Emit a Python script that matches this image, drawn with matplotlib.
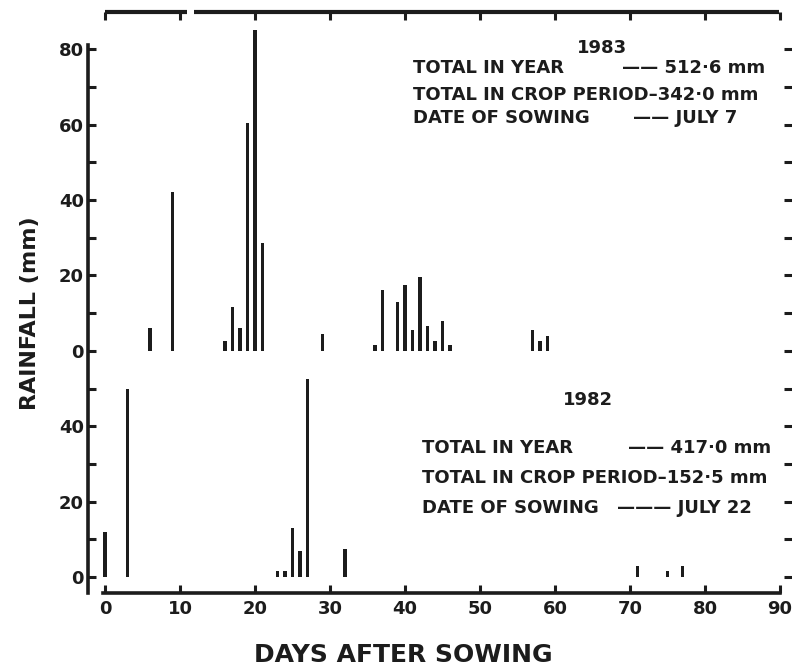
import matplotlib.pyplot as plt

# rainfall per day after sowing
days_1983 = [6, 9, 16, 17, 18, 19, 20, 21, 29, 36, 37, 39, 40, 41, 42, 43, 44, 45, 46, 57, 58, 59]
rain_1983 = [6, 42, 2.5, 11.5, 6, 60.5, 85, 28.5, 4.5, 1.5, 16, 13, 17.5, 5.5, 19.5, 6.5, 2.5, 8, 1.5, 5.5, 2.5, 4]

days_1982 = [0, 3, 23, 24, 25, 26, 27, 32, 71, 75, 77]
rain_1982 = [12, 50, 1.5, 1.5, 13, 7, 52.5, 7.5, 3, 1.5, 3]

offset_1983 = 60  # 1983 panel sits on top of 1982 panel
ytick_pos = list(range(0, 150, 10))
ytick_labels = ['0', '', '20', '', '40', '', '0', '', '20', '', '40', '', '60', '', '80']
xtick_pos = list(range(0, 100, 10))

ink = '#1c1c1c'
W, H = 792, 670


def px(x, y):
    return x / W, 1 - y / H


fig = plt.figure(figsize=(W / 100, H / 100), dpi=100)
ax = fig.add_axes([88 / W, 1 - 593 / H, (W - 88) / W, (593 - 12) / H])

ax.bar(days_1983, rain_1983, width=0.5, bottom=offset_1983, color=ink)
ax.bar(days_1982, rain_1982, width=0.5, color=ink)

ax.set_xlim((88 - 105) / 7.5, (W - 105) / 7.5)
ax.set_ylim(-(593 - 577) / 3.77, (577 - 12) / 3.77)

ax.set_xticks(xtick_pos)
ax.set_xticklabels([str(v) for v in xtick_pos], fontsize=13, fontweight='heavy', color=ink)
ax.set_yticks(ytick_pos)
ax.set_yticklabels(ytick_labels, fontsize=13, fontweight='heavy', color=ink)
ax.tick_params(direction='in', length=6, width=2.2, color=ink,
               top=True, right=True, labeltop=False, labelright=False)
ax.tick_params(axis='x', pad=5)
ax.tick_params(axis='y', pad=3)

for side in ['left', 'bottom']:
    ax.spines[side].set_linewidth(2.6)
    ax.spines[side].set_color(ink)
ax.spines['bottom'].set_bounds(-0.3, 90)
ax.spines['left'].set_bounds(-4.2, 141)
ax.spines['right'].set_visible(False)
ax.spines['top'].set_visible(False)

# top frame line is broken in the original
for seg in [(0, 10.9), (11.8, 89.8)]:
    ax.plot(seg, [1, 1], color=ink, lw=3, transform=ax.get_xaxis_transform(),
            clip_on=False, solid_capstyle='butt')

txt = dict(fontsize=13, fontweight='bold', color=ink, va='center')

# 1983 block
fig.text(*px(602, 48), '1983', ha='center', **txt)
fig.text(*px(413, 68), 'TOTAL IN YEAR', ha='left', **txt)
fig.text(*px(622, 68), '—— 512·6 mm', ha='left', **txt)
fig.text(*px(413, 95), 'TOTAL IN CROP PERIOD–342·0 mm', ha='left', **txt)
fig.text(*px(413, 118), 'DATE OF SOWING', ha='left', **txt)
fig.text(*px(633, 118), '—— JULY 7', ha='left', **txt)

# 1982 block
fig.text(*px(588, 400), '1982', ha='center', **txt)
fig.text(*px(422, 448), 'TOTAL IN YEAR', ha='left', **txt)
fig.text(*px(628, 448), '—— 417·0 mm', ha='left', **txt)
fig.text(*px(422, 478), 'TOTAL IN CROP PERIOD–152·5 mm', ha='left', **txt)
fig.text(*px(422, 508), 'DATE OF SOWING', ha='left', **txt)
fig.text(*px(617, 508), '——— JULY 22', ha='left', **txt)

fig.text(*px(30, 313), 'RAINFALL (mm)', rotation=90, ha='center', va='center',
         fontsize=16, fontweight='bold', color=ink)
fig.text(*px(403, 655), 'DAYS AFTER SOWING', ha='center', va='center',
         fontsize=18, fontweight='bold', color=ink)

fig.savefig('out.png', dpi=100, facecolor='white')
